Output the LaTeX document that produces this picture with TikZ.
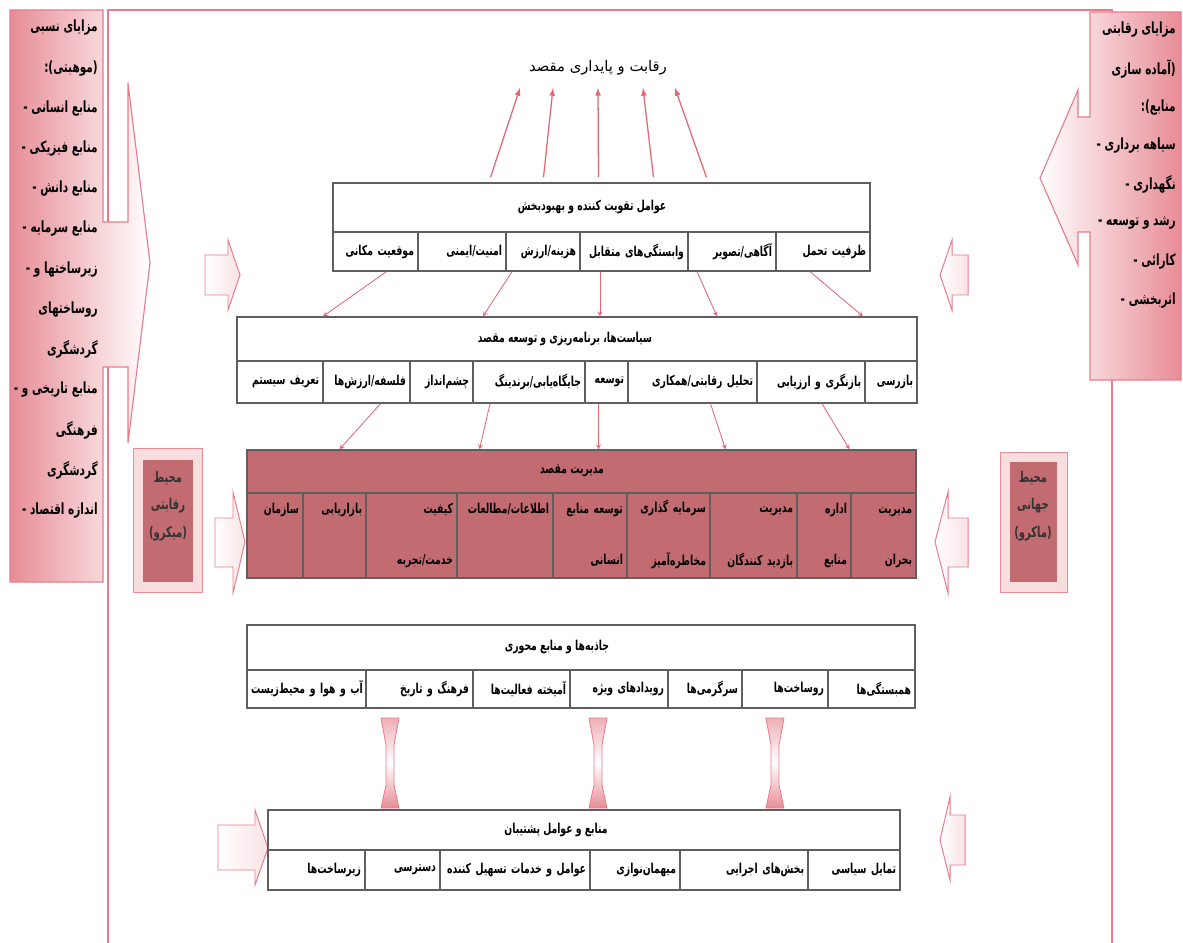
\documentclass[tikz,border=0pt]{standalone}
\usepackage{fontspec}
\usepackage{tikz}
\usetikzlibrary{calc}
\TeXXeTstate=1
\newfontfamily\farsi[Script=Arabic, FakeStretch=0.68]{DejaVu Sans}
\newfontfamily\farsiwide[Script=Arabic]{DejaVu Sans}
\newcommand{\fa}[1]{\mbox{\beginR #1\endR}}

\definecolor{framepink}{RGB}{232,124,140}
\definecolor{arrowpink}{RGB}{226,104,120}
\definecolor{sidepink}{RGB}{232,140,150}
\definecolor{rosefill}{RGB}{194,107,112}
\definecolor{gridgray}{RGB}{95,95,95}

\tikzset{
  cellbox/.style={draw=gridgray, line width=0.9pt, inner xsep=1mm, inner ysep=0pt, align=right, text=black,
    font=\farsi\bfseries\fontsize{9.7}{12}\selectfont},
  headbox/.style={draw=gridgray, line width=0.9pt, inner sep=0pt},
  headtext/.style={text=black, font=\farsi\bfseries\fontsize{9.7}{11}\selectfont},
  sidetext/.style={text=black, font=\farsi\bfseries\fontsize{11}{13}\selectfont, inner sep=0pt},
  envtext/.style={text=black!80, font=\farsi\bfseries\fontsize{10.5}{19.5}\selectfont, align=center, inner sep=0pt},
  link/.style={draw=arrowpink, line width=0.6pt, ->, >=stealth},
  uparrow/.style={draw=arrowpink, line width=0.9pt, ->, >=latex},
  sidearrow/.style={draw=framepink, line width=0.7pt, left color=white, right color=sidepink!25},
}

\begin{document}
\begin{tikzpicture}[x=0.25mm, y=-0.25mm]
\useasboundingbox (0,0) rectangle (1183,943);
% outer frame
\draw[framepink, line width=1pt] (108,943) -- (108,10) -- (1112,10) -- (1112,943);

% side boxes with big arrows
\draw[framepink, line width=0.8pt, left color=sidepink, right color=white]
  (10,10) -- (103,10) -- (103,222) -- (128,222) -- (128,83) -- (150,263) -- (128,443)
  -- (128,367) -- (103,367) -- (103,582) -- (10,582) -- cycle;
\draw[framepink, line width=0.8pt, right color=sidepink, left color=white]
  (1181,12) -- (1090,12) -- (1090,117) -- (1078,117) -- (1078,90) -- (1040,178) -- (1078,265)
  -- (1078,232) -- (1090,232) -- (1090,380) -- (1181,380) -- cycle;
\foreach \t [count=\i] in {{مزایای نسبی}, {(موهبتی):}, {منابع انسانی -}, {منابع فیزیکی -},
    {منابع دانش -}, {منابع سرمایه -}, {زیرساختها و -}, {روساختهای}, {گردشگری},
    {منابع تاریخی و -}, {فرهنگی}, {گردشگری}, {اندازه اقتصاد -}}
  \node[sidetext, anchor=east] (left\i) at (98,{28+40.2*(\i-1)}) {\fa{\t}};
\foreach \t [count=\i] in {{مزایای رقابتی}, {(آماده سازی}, {منابع):}, {سیاهه برداری -},
    {نگهداری -}, {رشد و توسعه -}, {کارائی -}, {اثربخشی -}}
  \node[sidetext, anchor=east] (right\i) at (1176,{30+38.6*(\i-1)}) {\fa{\t}};

% environment boxes
\draw[sidepink, fill=sidepink!30] (133,448) rectangle (202,592);
\fill[rosefill] (143,460) rectangle (193,582);
\node[envtext] (micro) at (168,506) {\fa{محیط}\\\fa{رقابتی}\\\fa{(میکرو)}};
\draw[sidepink, fill=sidepink!30] (1000,452) rectangle (1067,592);
\fill[rosefill] (1010,462) rectangle (1057,582);
\node[envtext] (macro) at (1033,506) {\fa{محیط}\\\fa{جهانی}\\\fa{(ماکرو)}};

% small side arrows
\draw[sidearrow] (205,255) -- (228,255) -- (228,240) -- (240,275) -- (228,310) -- (228,295) -- (205,295) -- cycle;
\draw[sidearrow] (215,518) -- (233,518) -- (233,492) -- (245,542) -- (233,593) -- (233,567) -- (215,567) -- cycle;
\draw[sidearrow] (218,825) -- (255,825) -- (255,810) -- (268,848) -- (255,885) -- (255,870) -- (218,870) -- cycle;
\draw[sidearrow] (968,255) -- (952,255) -- (952,240) -- (940,275) -- (952,310) -- (952,295) -- (968,295) -- cycle;
\draw[sidearrow] (968,518) -- (948,518) -- (948,492) -- (935,542) -- (948,593) -- (948,567) -- (968,567) -- cycle;
\draw[sidearrow] (965,815) -- (950,815) -- (950,797) -- (940,840) -- (950,880) -- (950,865) -- (965,865) -- cycle;

% goal
\node[text=black, font=\farsiwide\fontsize{10.5}{12}\selectfont] (goal) at (598,68) {\fa{رقابت و پایداری مقصد}};

% table 1
\node[headbox, minimum width=537*0.25mm, minimum height=49*0.25mm] (t1head) at (601.5,207.5) {};
\node[headtext] (t1title) at (592,207) {\fa{عوامل تقویت کننده و بهبودبخش}};
\foreach \xa/\xb/\txt [count=\i] in {333/418/{موقعیت مکانی}, 418/506/{امنیت/ایمنی}, 506/580/{هزینه/ارزش},
    580/688/{وابستگی^^^^200cهای متقابل}, 688/776/{آگاهی/تصویر}, 776/870/{ظرفیت تحمل}}
  \node[cellbox, text width={(\xb-\xa-8)*0.25mm}, minimum height=39*0.25mm] (t1c\i) at ({(\xa+\xb)/2},251.5) {\fa{\txt}};

% table 2
\node[headbox, minimum width=680*0.25mm, minimum height=44*0.25mm] (t2head) at (577,339) {};
\node[headtext] (t2title) at (565,339) {\fa{سیاست^^^^200cها، برنامه^^^^200cریزی و توسعه مقصد}};
\foreach \xa/\xb/\txt [count=\i] in {237/323/{تعریف سیستم}, 323/410/{فلسفه/ارزش^^^^200cها}, 410/473/{چشم^^^^200cانداز},
    473/585/{جایگاه^^^^200cیابی/برندینگ}, 585/628/{توسعه}, 628/757/{تحلیل رقابتی/همکاری},
    757/865/{بازنگری و ارزیابی}, 865/917/{بازرسی}}
  \node[cellbox, text width={(\xb-\xa-8)*0.25mm}, minimum height=42*0.25mm] (t2c\i) at ({(\xa+\xb)/2},382) {\fa{\txt}};

% table 3
\node[headbox, fill=rosefill, minimum width=669*0.25mm, minimum height=43*0.25mm] (t3head) at (581.5,471.5) {};
\node[headtext] (t3title) at (572,471) {\fa{مدیریت مقصد}};
\foreach \xa/\xb/\ta/\tb [count=\i] in {247/303/{سازمان}/{}, 303/366/{بازاریابی}/{}, 366/457/{کیفیت}/{خدمت/تجربه},
    457/553/{اطلاعات/مطالعات}/{}, 553/627/{توسعه منابع}/{انسانی}, 627/710/{سرمایه گذاری}/{مخاطره^^^^200cآمیز},
    710/797/{مدیریت}/{بازدید کنندگان}, 797/851/{اداره}/{منابع}, 851/916/{مدیریت}/{بحران}}
  \node[cellbox, fill=rosefill, text width={(\xb-\xa-8)*0.25mm}, minimum height=85*0.25mm] (t3c\i)
    at ({(\xa+\xb)/2},535.5) {\fa{\ta}\strut\\[24pt]\fa{\tb}\strut};

% table 4
\node[headbox, minimum width=668*0.25mm, minimum height=45*0.25mm] (t4head) at (581,647.5) {};
\node[headtext] (t4title) at (557,647) {\fa{جاذبه^^^^200cها و منابع محوری}};
\foreach \xa/\xb/\txt [count=\i] in {247/366/{آب و هوا و محیط^^^^200cزیست}, 366/473/{فرهنگ و تاریخ},
    473/570/{آمیخته فعالیت^^^^200cها}, 570/668/{رویدادهای ویژه}, 668/742/{سرگرمی^^^^200cها},
    742/828/{روساخت^^^^200cها}, 828/915/{همبستگی^^^^200cها}}
  \node[cellbox, text width={(\xb-\xa-8)*0.25mm}, minimum height=38*0.25mm] (t4c\i) at ({(\xa+\xb)/2},689) {\fa{\txt}};

% table 5
\node[headbox, minimum width=632*0.25mm, minimum height=40*0.25mm] (t5head) at (584,830) {};
\node[headtext] (t5title) at (556,830) {\fa{منابع و عوامل پشتیبان}};
\foreach \xa/\xb/\txt [count=\i] in {268/365/{زیرساخت^^^^200cها}, 365/440/{دسترسی}, 440/590/{عوامل و خدمات تسهیل کننده},
    590/680/{میهمان^^^^200cنوازی}, 680/808/{بخش^^^^200cهای اجرایی}, 808/900/{تمایل سیاسی}}
  \node[cellbox, text width={(\xb-\xa-8)*0.25mm}, minimum height=40*0.25mm] (t5c\i) at ({(\xa+\xb)/2},870) {\fa{\txt}};

% arrows to the goal
\foreach \a/\b in {-111/-78, -58/-45, -3/0, 52/45, 105/77}
  \draw[uparrow] ($(t1head.north)+(\a,-5)$) -- ($(goal.center)+(\b,20)$);
% links between tables
\foreach \s/\a/\b in {t1c1/11/-254, t1c3/-31/-94, t1c4/-34/23, t1c5/-35/140, t1c6/-13/286}
  \draw[link] ($(\s.south)+(\a,0)$) -- ($(t2head.north)+(\b,0)$);
\foreach \s/\a/\b in {t2c2/14/-242, t2c4/-39/-102, t2c5/-8/17, t2c6/18/144, t2c7/11/268}
  \draw[link] ($(\s.south)+(\a,0)$) -- ($(t3head.north)+(\b,0)$);
% supporting links
\foreach \x in {390,598,775}
  \draw[framepink, line width=0.6pt, top color=sidepink!70, bottom color=sidepink, middle color=white]
    (\x-9,718) -- (\x+9,718) -- (\x+4,745) -- (\x+4,785) -- (\x+9,808) -- (\x-9,808) -- (\x-4,785) -- (\x-4,745) -- cycle;
\end{tikzpicture}
\end{document}
